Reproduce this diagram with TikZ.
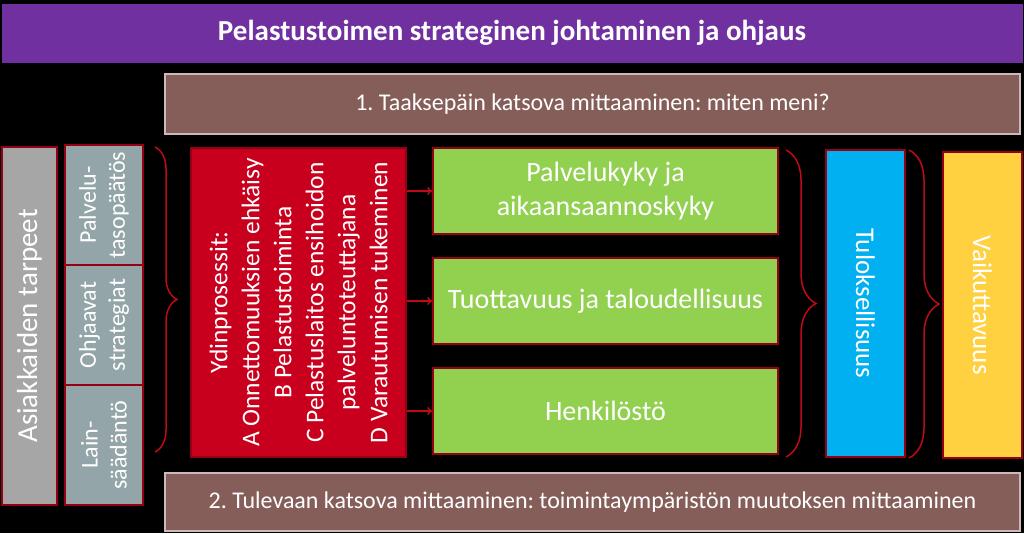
\documentclass[tikz,border=0pt]{standalone}
\usepackage{fontspec}
\setmainfont{Carlito}
\usepackage{tikz}
\usetikzlibrary{arrows.meta,arrows}
\usetikzlibrary{decorations.pathreplacing}
\frenchspacing
\definecolor{titlefill}{RGB}{112,48,160}
\definecolor{barfill}{RGB}{133,94,90}
\definecolor{barline}{RGB}{205,185,185}
\definecolor{boxline}{RGB}{150,0,20}
\definecolor{needfill}{RGB}{166,166,166}
\definecolor{basisfill}{RGB}{148,165,169}
\definecolor{corefill}{RGB}{200,0,30}
\definecolor{outfill}{RGB}{146,208,80}
\definecolor{resultfill}{RGB}{0,176,240}
\definecolor{impactfill}{RGB}{255,208,64}
\definecolor{bracecol}{RGB}{192,10,20}
\tikzset{
  box/.style={draw=boxline, line width=1.5pt, inner sep=0pt, text=white, align=center,
    font=\fontsize{24}{30}\selectfont},
  bar/.style={box, fill=barfill, draw=barline, minimum width=855pt},
  basis/.style={box, fill=basisfill, rotate=90, minimum width=120pt, minimum height=78pt,
    font=\fontsize{24}{29}\selectfont},
  outbox/.style={box, fill=outfill, minimum width=345pt, minimum height=86pt,
    font=\fontsize{28}{34}\selectfont},
  sumbrace/.style={draw=bracecol, line width=1.5pt, decorate,
    decoration={brace, amplitude=#1}},
  link/.style={draw=bracecol, line width=1.5pt, -{To[length=5pt,width=8pt]}}
}
\begin{document}
\begin{tikzpicture}[x=1pt, y=-1pt]
\fill[black] (0,0) rectangle (1024,533);
\useasboundingbox (0,0) rectangle (1024,533);

% top of the scheme
\node[box, fill=titlefill, draw=none, minimum width=1021pt, minimum height=59pt,
  font=\fontsize{29}{34}\selectfont\bfseries] (title) at (512,33)
  {Pelastustoimen strateginen johtaminen ja ohjaus};
\node[bar, minimum height=60pt] (backbar) at (592.5,104)
  {1. Taaksepäin katsova mittaaminen: miten meni?};
\node[bar, minimum height=58pt] (forbar) at (592.5,502)
  {2. Tulevaan katsova mittaaminen: toimintaympäristön muutoksen mittaaminen};

% left column
\node[box, fill=needfill, rotate=90, minimum width=358pt, minimum height=55pt,
  font=\fontsize{29}{34}\selectfont] (needs) at (29.5,326) {Asiakkaiden tarpeet};
\node[basis] (servlevel) at (104,205) {Palvelu-\\tasopäätös};
\node[basis] (strategies) at (104,325) {Ohjaavat\\strategiat};
\node[basis] (law) at (104,445) {Lain-\\säädäntö};
\draw[sumbrace=22pt] (155,147) -- (155,452);

% core processes
\node[box, fill=corefill, rotate=90, minimum width=309pt, minimum height=215pt,
  font=\fontsize{25.5}{32}\selectfont] (core) at (298.5,302.5)
  {Ydinprosessit:\\A Onnettomuuksien ehkäisy\\B Pelastustoiminta\\
   C Pelastuslaitos ensihoidon\\palveluntoteuttajana\\D Varautumisen tukeminen};

% outputs
\node[outbox] (capacity) at (605.5,191) {Palvelukyky ja\\aikaansaannoskyky};
\node[outbox] (productivity) at (605.5,301) {Tuottavuus ja taloudellisuus};
\node[outbox] (staff) at (605.5,411) {Henkilöstö};
\foreach \target in {capacity,productivity,staff}
  \draw[link] (core.south |- \target.west) -- (\target.west);
\draw[sumbrace=30pt] (786,150) -- (786,457);

% results and impact
\node[box, fill=resultfill, rotate=-90, minimum width=307pt, minimum height=79pt,
  font=\fontsize{27}{32}\selectfont] (results) at (865.5,303.5) {Tuloksellisuus};
\draw[sumbrace=30pt] (909,150) -- (909,458);
\node[box, fill=impactfill, rotate=-90, minimum width=306pt, minimum height=79pt,
  font=\fontsize{27}{32}\selectfont] (impact) at (982.5,305) {Vaikuttavuus};
\end{tikzpicture}
\end{document}
